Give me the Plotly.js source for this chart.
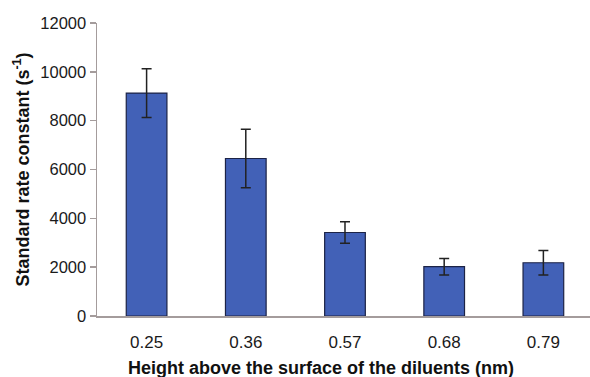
<!DOCTYPE html>
<html><head><meta charset="utf-8">
<script src="https://cdn.plot.ly/plotly-3.0.1.min.js"></script>
<style>html,body{margin:0;padding:0;background:#fff}#c{width:590px;height:377px}</style>
</head><body><div id="c"></div>
<script>
const categories = ["0.25", "0.36", "0.57", "0.68", "0.79"];
const rateValues = [9130, 6450, 3420, 2020, 2180];
const rateErrors = [1000, 1200, 440, 340, 500];
const yTicks = [0, 2000, 4000, 6000, 8000, 10000, 12000];
const xTitle = 'Height above the surface of the diluents (nm)';
const yTitle = 'Standard rate constant (s<sup>-1</sup>)';

const trace = {
  type: 'bar',
  x: categories,
  y: rateValues,
  width: 0.41,
  marker: {color: '#4261b7', line: {color: '#1c2346', width: 1.2}},
  error_y: {type: 'data', array: rateErrors, visible: true, color: '#222222', thickness: 1.5, width: 5}
};

const layout = {
  width: 590, height: 377,
  margin: {l: 97, r: 0, t: 23, b: 61},
  paper_bgcolor: '#ffffff', plot_bgcolor: '#ffffff',
  showlegend: false,
  font: {family: 'Liberation Sans, Arial, sans-serif', color: '#1a1a1a'},
  xaxis: {
    type: 'category', range: [-0.5, 4.47],
    showline: true, linecolor: '#a49c9c', linewidth: 1.5,
    ticks: '', showgrid: false, zeroline: false,
    ticklabelstandoff: 10,
    tickfont: {size: 17, color: '#1a1a1a'}
  },
  yaxis: {
    range: [0, 12000], tickvals: yTicks, ticktext: yTicks.map(String),
    showline: true, linecolor: '#a49c9c', linewidth: 1.5,
    ticks: 'outside', ticklen: 6, tickcolor: '#a49c9c', tickwidth: 1.5,
    showgrid: false, zeroline: false,
    tickfont: {size: 16.5, color: '#1a1a1a'},
    title: {text: '<b>' + yTitle + '</b>', font: {size: 18, color: '#111'}, standoff: 6}
  },
  annotations: [{
    text: '<b>' + xTitle + '</b>', xref: 'paper', yref: 'paper',
    x: 0.455, y: -52 / 293, xanchor: 'center', yanchor: 'middle',
    showarrow: false, font: {size: 18, color: '#111'}
  }]
};

Plotly.newPlot('c', [trace], layout, {displayModeBar: false, staticPlot: true});
</script>
</body></html>
